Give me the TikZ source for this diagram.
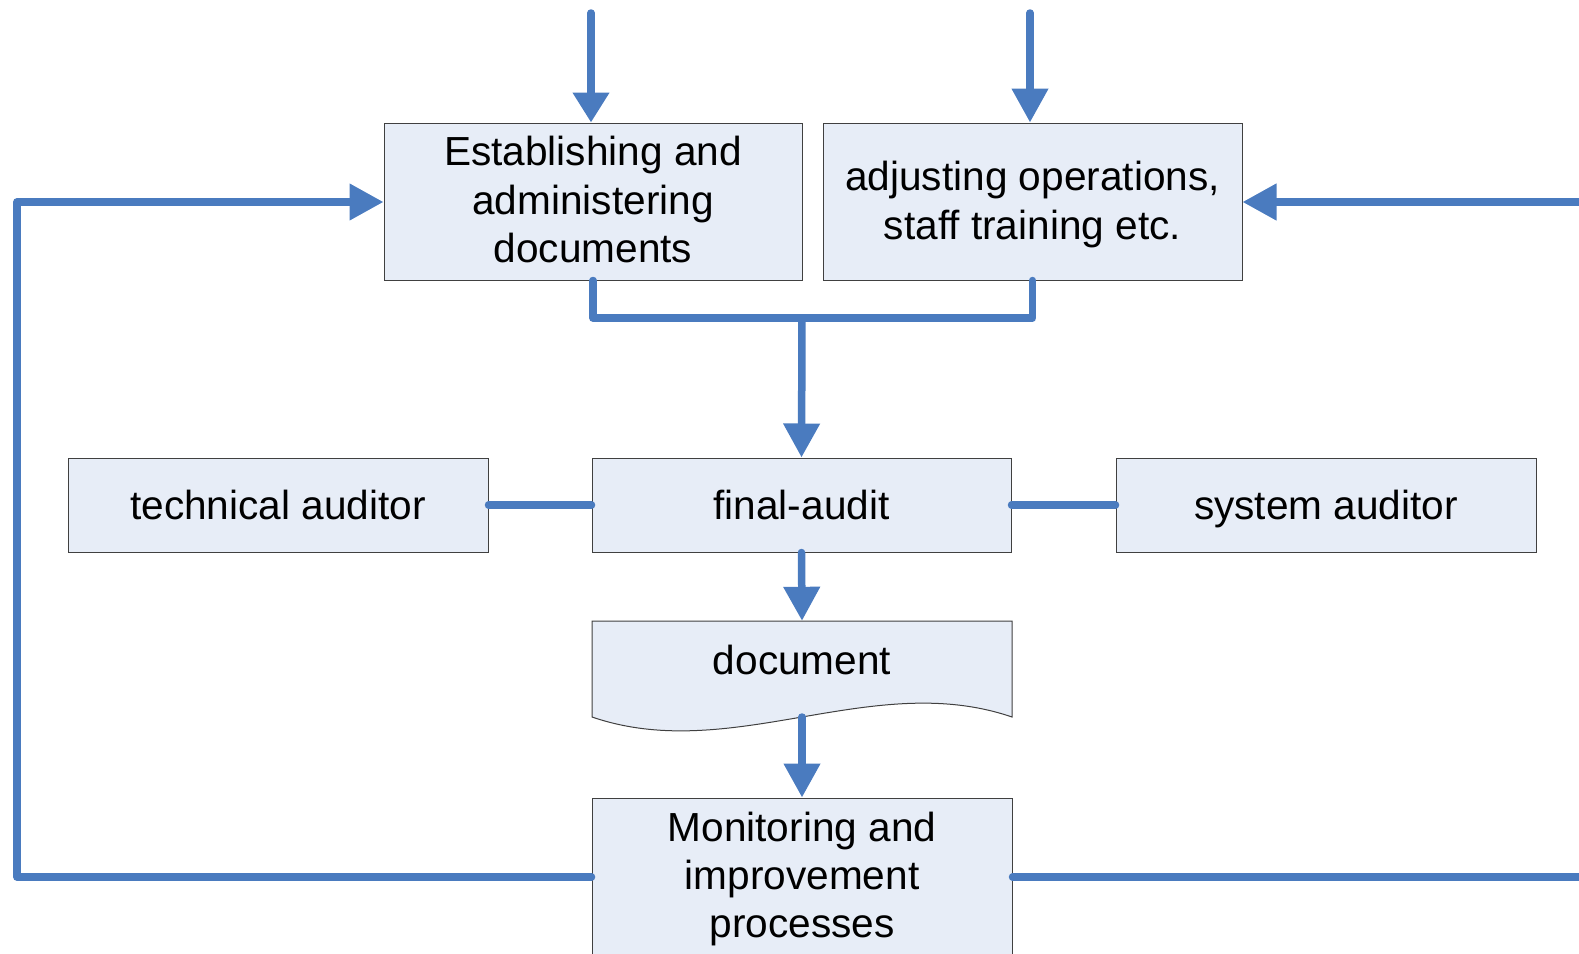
\documentclass[tikz,border=0pt]{standalone}
\usepackage{fontspec}
\setmainfont{Liberation Sans}
\usetikzlibrary{arrows.meta}
\definecolor{lineblue}{RGB}{74,123,191}
\definecolor{boxfill}{RGB}{231,237,247}
\definecolor{boxborder}{RGB}{64,64,64}
\tikzset{
  box/.style={draw=boxborder, fill=boxfill, line width=1pt, inner sep=0pt, align=center,
    font=\fontsize{40.6pt}{48.3pt}\selectfont},
  lbl/.style={inner sep=0pt, align=center, font=\fontsize{40.6pt}{48.3pt}\selectfont},
  conn/.style={draw=lineblue, line width=7.5pt, line cap=round, line join=round},
  arr/.style={conn, -{Triangle[length=34pt,width=35pt]}},
}
\begin{document}
\begin{tikzpicture}[x=1pt,y=-1pt]
\useasboundingbox (0,0) rectangle (1579,953);
% boxes
\node[box, minimum width=418pt, minimum height=157pt] (b1) at (593,201.5) {};
\node[lbl] (b1l) at (593,199.5) {Establishing and\\administering\\documents};
\node[box, minimum width=419pt, minimum height=157pt] (b2) at (1032.5,201.5) {};
\node[lbl] (b2l) at (1032.5,204.5) {adjusting operations,\\staff training etc.};
\node[box, minimum width=420pt, minimum height=94pt] (ta) at (278,505) {technical auditor};
\node[box, minimum width=419pt, minimum height=94pt] (fa) at (801.5,505) {final-audit};
\node[box, minimum width=420pt, minimum height=94pt, text height=29.6pt, text depth=0pt] (sa) at (1326,505) {system auditor};
% document shape
\path[draw=boxborder, fill=boxfill, line width=1pt] (592,621) -- (1012,621) -- (1012,717)
  .. controls (872,669) and (732,765) .. (592,717) -- cycle;
\node[lbl, minimum width=420pt, minimum height=78pt] (doc) at (802,660) {document};
\coordinate (dw) at (802,717);
% monitoring box
\node[box, minimum width=420pt, minimum height=176pt] (mon) at (802,886) {};
\node[lbl] (monl) at (802,879) {Monitoring and\\improvement\\processes};
% free ends
\coordinate (t1) at (591,13);
\coordinate (t2) at (1030,13);
\coordinate (j) at (802,318);
\coordinate (lc1) at (17,877);
\coordinate (lc2) at (17,202);
\coordinate (r1) at (1590,202);
\coordinate (r2) at (1590,877);
% connectors
\draw[conn, -{Triangle[length=30pt,width=35pt]}] (t1) -- (t1 |- b1.north);
\draw[arr] (t2) -- (t2 |- b2.north);
\draw[conn] (b1.south) |- (j) -| (b2.south);
\draw[arr] (j) -- (fa.north);
\draw[conn] (ta.east) -- (fa.west);
\draw[conn] (fa.east) -- (sa.west);
\draw[arr] (fa.south) -- (doc.north);
\draw[arr] (dw) -- (mon.north);
\draw[arr] (mon.west |- lc1) -- (lc1) -- (lc2) -- (lc2 -| b1.west);
\draw[arr] (r1) -- (r1 -| b2.east);
\draw[conn] (mon.east |- r2) -- (r2);
\end{tikzpicture}
\end{document}
